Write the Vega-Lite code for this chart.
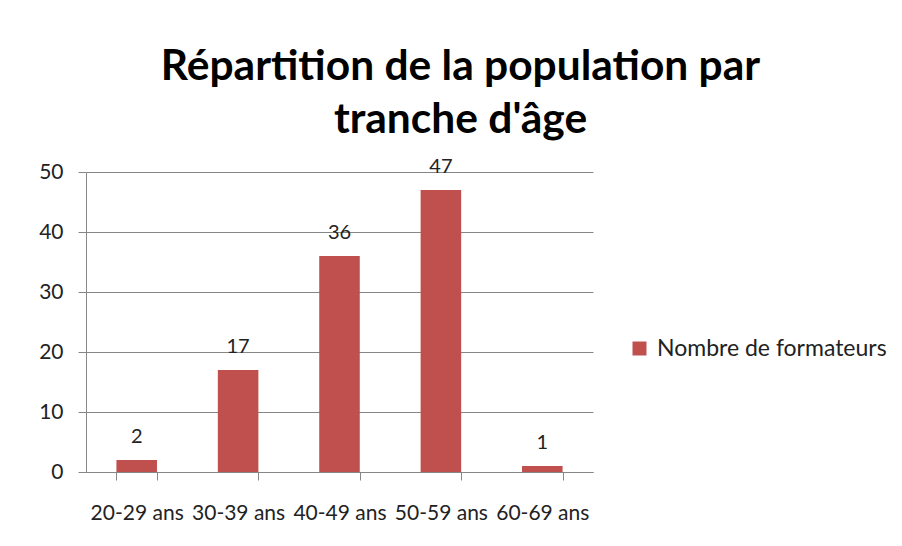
{
  "$schema": "https://vega.github.io/schema/vega-lite/v6.json",
  "autosize": {"type": "none"},
  "width": 507,
  "height": 300,
  "padding": {"left": 86, "top": 172, "right": 309, "bottom": 74},
  "background": "white",
  "title": {
    "text": ["Répartition de la population par", "tranche d'âge"],
    "font": "Lato",
    "fontWeight": "bold",
    "fontSize": 42.5,
    "lineHeight": 53,
    "color": "#000000",
    "anchor": "middle",
    "dx": 121,
    "offset": 16
  },
  "data": {
    "values": [
      {"tranche": "20-29 ans", "nombre": 2, "serie": "Nombre de formateurs"},
      {"tranche": "30-39 ans", "nombre": 17, "serie": "Nombre de formateurs"},
      {"tranche": "40-49 ans", "nombre": 36, "serie": "Nombre de formateurs"},
      {"tranche": "50-59 ans", "nombre": 47, "serie": "Nombre de formateurs"},
      {"tranche": "60-69 ans", "nombre": 1, "serie": "Nombre de formateurs"}
    ]
  },
  "encoding": {
    "x": {
      "field": "tranche",
      "type": "nominal",
      "sort": null,
      "scale": {"paddingInner": 0.6, "paddingOuter": 0.3},
      "axis": {
        "title": null,
        "labelAngle": 0,
        "labelFont": "Lato",
        "labelFontSize": 21,
        "labelColor": "#222222",
        "labelPadding": 22,
        "tickBand": "extent",
        "tickSize": 8,
        "tickColor": "#868686",
        "domainColor": "#868686",
        "grid": false
      }
    },
    "y": {
      "field": "nombre",
      "type": "quantitative",
      "scale": {"domain": [0, 50]},
      "axis": {
        "title": null,
        "values": [0, 10, 20, 30, 40, 50],
        "labelFont": "Lato",
        "labelFontSize": 21,
        "labelColor": "#222222",
        "labelPadding": 15,
        "tickSize": 8,
        "tickColor": "#868686",
        "domainColor": "#868686",
        "gridColor": "#868686",
        "gridOpacity": 1
      }
    }
  },
  "layer": [
    {
      "mark": {"type": "bar", "color": "#C0504D"},
      "encoding": {
        "color": {
          "field": "serie",
          "type": "nominal",
          "scale": {"range": ["#C0504D"]},
          "legend": {
            "title": null,
            "orient": "none",
            "legendX": 542,
            "legendY": 165,
            "symbolType": "square",
            "symbolSize": 196,
            "symbolStrokeWidth": 0,
            "labelFont": "Lato",
            "labelFontSize": 23,
            "labelColor": "#222222",
            "labelOffset": 6,
            "labelLimit": 0
          }
        }
      }
    },
    {
      "mark": {"type": "text", "baseline": "alphabetic", "dy": -17, "font": "Lato", "fontSize": 20, "color": "#222222"},
      "encoding": {"text": {"field": "nombre", "type": "quantitative"}}
    }
  ],
  "config": {"view": {"stroke": null}}
}
